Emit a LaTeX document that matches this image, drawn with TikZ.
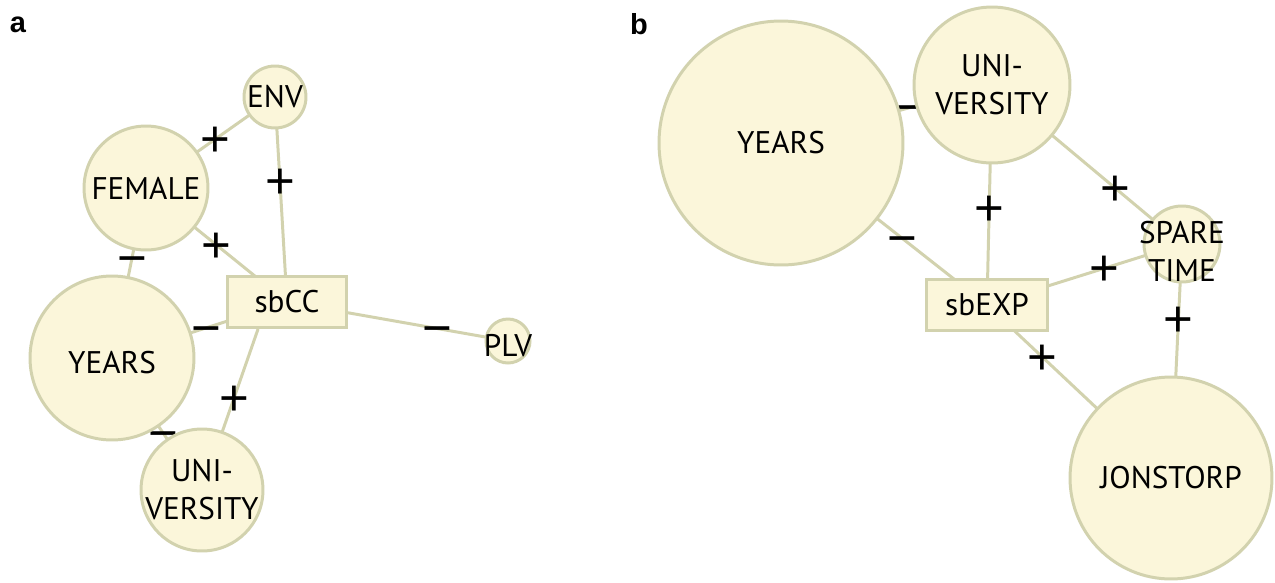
\documentclass[tikz,border=0pt]{standalone}
\usepackage{fontspec}
\setmainfont{PT Sans}
\setsansfont{Liberation Sans}
\newfontfamily\signfont{Liberation Sans}
\usetikzlibrary{backgrounds}
\definecolor{varfill}{RGB}{251,246,218}
\definecolor{varline}{RGB}{210,210,174}
\begin{document}
\begin{tikzpicture}[x=0.02cm, y=-0.02cm,
var/.style={circle, draw=varline, fill=varfill, line width=1.7pt, inner sep=0pt},
box/.style={rectangle, draw=varline, fill=varfill, line width=1.7pt, minimum width=2.4cm, minimum height=1.02cm, font=\fontsize{17.8}{21.6}\selectfont},
lbl/.style={align=center, inner sep=0pt, font=\fontsize{17.8}{21.6}\selectfont},
link/.style={draw=varline, line width=1.7pt},
sign/.style={inner sep=0pt, text height=19.7pt, text depth=0pt, font=\signfont\fontsize{29}{29}\selectfont},
panel/.style={font=\sffamily\bfseries\fontsize{16.5}{16.5}\selectfont}]
\useasboundingbox (0,0) rectangle (1275,582);
% panel a
\node[panel] (pa) at (18,25) {a};
\node[var, minimum size=1.24cm, label={[lbl]center:ENV}] (env) at (275,97) {};
\node[var, minimum size=2.48cm, label={[lbl]center:FEMALE}] (fem) at (146,188) {};
\node[var, minimum size=3.28cm, label={[lbl, yshift=-0.1cm]center:YEARS}] (yrs) at (112,358) {};
\node[var, minimum size=2.44cm, label={[lbl]center:{UNI-\\VERSITY}}] (uni) at (202,490) {};
\node[var, minimum size=0.88cm, label={[lbl, yshift=-0.1cm]center:PLV}] (plv) at (508,341) {};
\node[box] (cc) at (287,302) {sbCC};
% panel b
\node[panel] (pb) at (639,24) {b};
\node[var, minimum size=4.88cm, label={[lbl]center:YEARS}] (yrsb) at (781,143) {};
\node[var, minimum size=3.12cm, label={[lbl]center:{UNI-\\VERSITY}}] (unib) at (992,85) {};
\node[var, minimum size=1.52cm, label={[lbl, yshift=-0.14cm]center:{SPARE\\TIME}}] (spare) at (1182,244) {};
\node[var, minimum size=4.04cm, label={[lbl]center:JONSTORP}] (jon) at (1171,478) {};
\node[box, minimum width=2.42cm] (exp) at (987,305) {sbEXP};
\begin{pgfonlayer}{background}
\draw[link] (fem.center) -- node[sign, pos=.54] {+} (env.center);
\draw[link] (env.center) -- node[sign, pos=.41] {+} (cc.center);
\draw[link] (fem.center) -- node[sign, pos=.50] {+} (cc.center);
\draw[link] (fem.center) -- node[sign, pos=.41] {−} (yrs.center);
\draw[link] (yrs.center) -- node[sign, pos=.54] {−} (cc.center);
\draw[link] (cc.center) -- node[sign, pos=.68] {−} (plv.center);
\draw[link] (cc.223) -- node[sign, pos=.43] {+} (uni.center);
\draw[link] (yrs.center) -- node[sign, pos=.57] {−} (uni.center);
\draw[link] (yrsb.center) -- node[sign, pos=.62] {−} (unib.center);
\draw[link] (unib.center) -- node[sign, pos=.56] {+} (exp.center);
\draw[link] (unib.center) -- node[sign, pos=.65] {+} (spare.center);
\draw[link] (yrsb.center) -- node[sign, pos=.59] {−} (exp.center);
\draw[link] (exp.center) -- node[sign, pos=.60] {+} (spare.center);
\draw[link] (spare.center) -- node[sign, pos=.32] {+} (jon.center);
\draw[link] (exp.center) -- node[sign, pos=.30] {+} (jon.center);
\end{pgfonlayer}
\end{tikzpicture}
\end{document}
